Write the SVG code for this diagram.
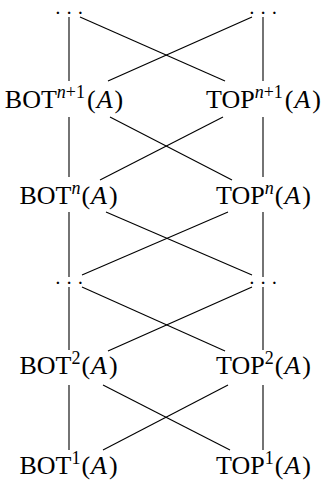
<svg xmlns="http://www.w3.org/2000/svg" width="325" height="480" viewBox="0 0 325 480">
<style>
.lbl{font-family:"Liberation Serif","Times New Roman",serif;font-size:26px;fill:#000;text-anchor:middle}
.sup{font-size:18px}
.it{font-style:italic}
.dots{font-family:"Liberation Serif",serif;font-size:15px;font-weight:bold;fill:#000;letter-spacing:7.5px}
.e{stroke:#000;stroke-width:1.1;fill:none}
</style>
<rect width="325" height="480" fill="#fff"/>
<g id="connectors">
<line class="e" x1="69" y1="17" x2="69" y2="81"/>
<line class="e" x1="263" y1="17" x2="263" y2="81"/>
<line class="e" x1="80" y1="17" x2="225" y2="81"/>
<line class="e" x1="252" y1="17" x2="108" y2="81"/>
<line class="e" x1="69" y1="117" x2="69" y2="177"/>
<line class="e" x1="263" y1="117" x2="263" y2="177"/>
<line class="e" x1="110" y1="117" x2="232" y2="180"/>
<line class="e" x1="223" y1="117" x2="100" y2="180"/>
<line class="e" x1="69" y1="212" x2="69" y2="277"/>
<line class="e" x1="263" y1="212" x2="263" y2="277"/>
<line class="e" x1="106" y1="212" x2="252" y2="275"/>
<line class="e" x1="228" y1="212" x2="82" y2="275"/>
<line class="e" x1="69" y1="287" x2="69" y2="350"/>
<line class="e" x1="263" y1="287" x2="263" y2="350"/>
<line class="e" x1="82" y1="287" x2="225" y2="351"/>
<line class="e" x1="252" y1="287" x2="108" y2="351"/>
<line class="e" x1="69" y1="385" x2="69" y2="450"/>
<line class="e" x1="263" y1="385" x2="263" y2="450"/>
<line class="e" x1="103" y1="385" x2="230" y2="450"/>
<line class="e" x1="228" y1="385" x2="103" y2="450"/>
</g>
<g id="dots-top-left"><text class="dots" x="56" y="14">...</text></g>
<g id="dots-top-right"><text class="dots" x="250" y="14">...</text></g>
<g id="bot-n1"><text class="lbl" x="64" y="108">BOT<tspan class="sup" dy="-10"><tspan class="it">n</tspan>+1</tspan><tspan dy="10" dx="2">(</tspan><tspan class="it" dx="1">A</tspan><tspan dx="2">)</tspan></text></g>
<g id="top-n1"><text class="lbl" x="263.5" y="108">TOP<tspan class="sup" dy="-10"><tspan class="it">n</tspan>+1</tspan><tspan dy="10" dx="2">(</tspan><tspan class="it" dx="1">A</tspan><tspan dx="2">)</tspan></text></g>
<g id="bot-n"><text class="lbl" x="68.5" y="204">BOT<tspan class="sup it" dy="-10">n</tspan><tspan dy="10" dx="1">(</tspan><tspan class="it" dx="1">A</tspan><tspan dx="2">)</tspan></text></g>
<g id="top-n"><text class="lbl" x="263.5" y="204">TOP<tspan class="sup it" dy="-10">n</tspan><tspan dy="10" dx="1">(</tspan><tspan class="it" dx="1">A</tspan><tspan dx="2">)</tspan></text></g>
<g id="dots-mid-left"><text class="dots" x="56" y="284">...</text></g>
<g id="dots-mid-right"><text class="dots" x="250" y="284">...</text></g>
<g id="bot-2"><text class="lbl" x="68.5" y="374">BOT<tspan class="sup" dy="-10">2</tspan><tspan dy="10" dx="1">(</tspan><tspan class="it" dx="1">A</tspan><tspan dx="2">)</tspan></text></g>
<g id="top-2"><text class="lbl" x="263.5" y="374">TOP<tspan class="sup" dy="-10">2</tspan><tspan dy="10" dx="1">(</tspan><tspan class="it" dx="1">A</tspan><tspan dx="2">)</tspan></text></g>
<g id="bot-1"><text class="lbl" x="68.5" y="474">BOT<tspan class="sup" dy="-10">1</tspan><tspan dy="10" dx="1">(</tspan><tspan class="it" dx="1">A</tspan><tspan dx="2">)</tspan></text></g>
<g id="top-1"><text class="lbl" x="263.5" y="474">TOP<tspan class="sup" dy="-10">1</tspan><tspan dy="10" dx="1">(</tspan><tspan class="it" dx="1">A</tspan><tspan dx="2">)</tspan></text></g>
</svg>
